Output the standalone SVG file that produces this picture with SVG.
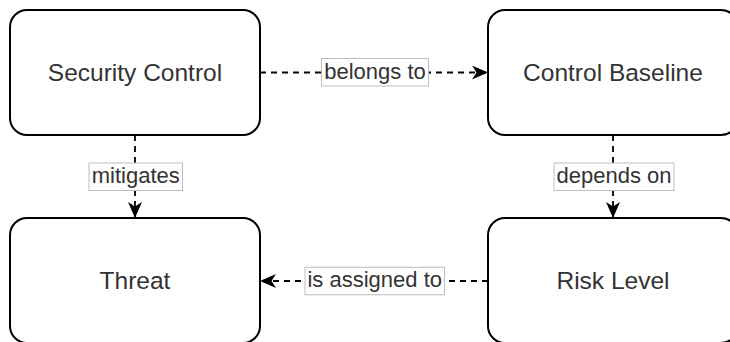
<svg xmlns="http://www.w3.org/2000/svg" width="730" height="342" viewBox="0 0 730 342">
  <style>
    .node { fill: #ffffff; stroke: #000000; stroke-width: 2; }
    .ntext { font-family: "Liberation Sans", Arial, Helvetica, sans-serif; font-size: 24.5px; fill: #333333; text-anchor: middle; }
    .edge { fill: none; stroke: #000000; stroke-width: 1.8; stroke-dasharray: 6 5; }
    .lbox { fill: #ffffff; stroke: #bdbdbd; stroke-width: 1; }
    .ltext { font-family: "Liberation Sans", Arial, Helvetica, sans-serif; font-size: 22px; fill: #333333; text-anchor: middle; }
  </style>
  <defs>
    <marker id="arrow" markerUnits="userSpaceOnUse" markerWidth="18" markerHeight="15" refX="16" refY="7" orient="auto">
      <path d="M0,0 L16,7 L0,14 L4.5,7 Z" fill="#000000"/>
    </marker>
  </defs>
  <rect width="730" height="342" fill="#ffffff"/>

  <g id="connectors">
    <g id="edge-belongs-to">
      <path class="edge" d="M260,72.5 H488" marker-end="url(#arrow)"/>
      <rect class="lbox" x="321.5" y="58.5" width="107" height="27.5"/>
      <text class="ltext" x="375" y="78.5">belongs to</text>
    </g>
    <g id="edge-mitigates">
      <path class="edge" d="M135,135 V218" marker-end="url(#arrow)"/>
      <rect class="lbox" x="89" y="163" width="93.5" height="27.5"/>
      <text class="ltext" x="135.75" y="183">mitigates</text>
    </g>
    <g id="edge-depends-on">
      <path class="edge" d="M613,135 V218" marker-end="url(#arrow)"/>
      <rect class="lbox" x="554" y="163" width="120" height="27.5"/>
      <text class="ltext" x="614" y="183">depends on</text>
    </g>
    <g id="edge-is-assigned-to">
      <path class="edge" d="M488,281 H260" marker-end="url(#arrow)"/>
      <rect class="lbox" x="305" y="267.25" width="139.5" height="27.5"/>
      <text class="ltext" x="374.75" y="287.25">is assigned to</text>
    </g>
  </g>

  <g id="security-control">
    <rect class="node" x="10" y="10" width="250" height="125" rx="17" ry="17"/>
    <text class="ntext" x="135" y="81.3">Security Control</text>
  </g>
  <g id="control-baseline">
    <rect class="node" x="488" y="10" width="250" height="125" rx="17" ry="17"/>
    <text class="ntext" x="613" y="81.3">Control Baseline</text>
  </g>
  <g id="threat">
    <rect class="node" x="10" y="218" width="250" height="125" rx="17" ry="17"/>
    <text class="ntext" x="135" y="289.3">Threat</text>
  </g>
  <g id="risk-level">
    <rect class="node" x="488" y="218" width="250" height="125" rx="17" ry="17"/>
    <text class="ntext" x="613" y="289.3">Risk Level</text>
  </g>
</svg>
